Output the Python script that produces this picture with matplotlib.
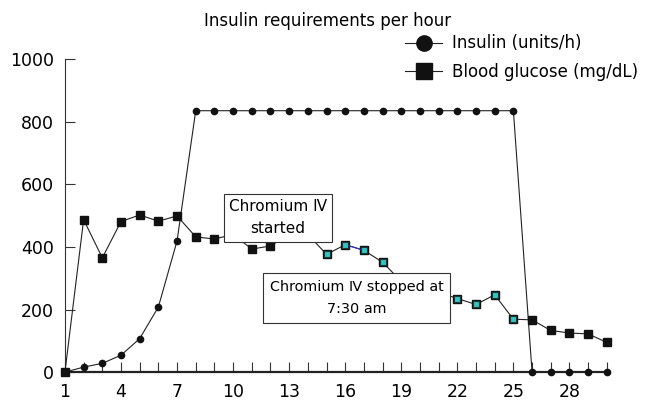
import matplotlib
matplotlib.use("Agg")
import matplotlib.pyplot as plt
from matplotlib.ticker import MultipleLocator

## insulin requirements / blood glucose per hour

hours = list(range(1, 31))
insulin = [0, 16, 28, 54, 107, 208, 419] + [835] * 18 + [0] * 5
glucose = [0, 487, 365, 481, 502, 482, 499, 432, 425, 440, 393, 403, 440, 440,
           376, 407, 389, 351, 290, 270, 255, 235, 216, 247, 169, 167, 133, 125, 122, 95]
# hours on chromium (cyan markers)
chrom_start, chrom_end = 15, 25
xlabels = [1, 4, 7, 10, 13, 16, 19, 22, 25, 28]

plt.rcParams['font.family'] = ['DejaVu Sans']
fig = plt.figure(figsize=(6.56, 4.13), dpi=100)
ax = fig.add_axes([0.099, 0.099, 0.826, 0.758])

dark = '#222222'
ax.plot(hours, insulin, color=dark, lw=0.8, marker='o', ms=4.5,
        mfc='#111111', mec='#111111', clip_on=False, zorder=3)
ax.plot(hours, glucose, color=dark, lw=0.8, marker='s', ms=6,
        mfc='#111111', mec='#111111', clip_on=False, zorder=3)
# blue segment between hour 16 and 17
ax.plot(hours[15:17], glucose[15:17], color='#3030d0', lw=0.8, zorder=3)
i0, i1 = chrom_start - 1, chrom_end
ax.plot(hours[i0:i1], glucose[i0:i1], ls='none', marker='s', ms=5,
        mfc='#3cc0c0', mec='#1a3a3a', mew=0.8, zorder=4)

# legend handles
ax.plot([], [], color=dark, lw=0.8, marker='o', ms=11, mfc='#111111',
        mec='#111111', label='Insulin (units/h)')
ax.plot([], [], color=dark, lw=0.8, marker='s', ms=11, mfc='#111111',
        mec='#111111', label='Blood glucose (mg/dL)')
handles, labels = ax.get_legend_handles_labels()
ax.legend(handles[-2:], labels[-2:], loc='upper right', bbox_to_anchor=(1.07, 1.1),
          frameon=False, fontsize=12, handlelength=2.2, handletextpad=0.6,
          labelspacing=0.65, borderaxespad=0)

box = dict(boxstyle='square,pad=0.35', fc='white', ec='#333333', lw=0.8)
box2 = dict(boxstyle='square,pad=0.45', fc='white', ec='#333333', lw=0.8)
ax.text(12.4, 493, 'Chromium \u2163\nstarted', ha='center', va='center',
        fontsize=11, linespacing=1.6, bbox=box, zorder=6)
ax.text(16.6, 237, 'Chromium \u2163 stopped at\n7:30 am', ha='center', va='center',
        fontsize=10.4, linespacing=1.8, bbox=box2, zorder=6)

ax.set_xlim(1, 30)
ax.set_ylim(0, 1000)
ax.xaxis.set_major_locator(MultipleLocator(1))
ax.set_xticks(hours)
ax.set_xticklabels([str(h) if h in xlabels else '' for h in hours])
ax.set_yticks(range(0, 1001, 200))
ax.tick_params(axis='both', direction='in', length=7, width=0.8, labelsize=12.5,
               color='#333333')
ax.tick_params(axis='x', pad=8)
ax.tick_params(axis='y', pad=8)
for s in ['top', 'right']:
    ax.spines[s].set_visible(False)
ax.spines['left'].set_linewidth(0.8)
ax.spines['bottom'].set_linewidth(1.6)
ax.spines['left'].set_color('#333333')
ax.spines['bottom'].set_color('#222222')

fig.text(0.5, 0.95, 'Insulin requirements per hour', ha='center', va='center',
         fontsize=12)

fig.savefig('out.png', dpi=100)
